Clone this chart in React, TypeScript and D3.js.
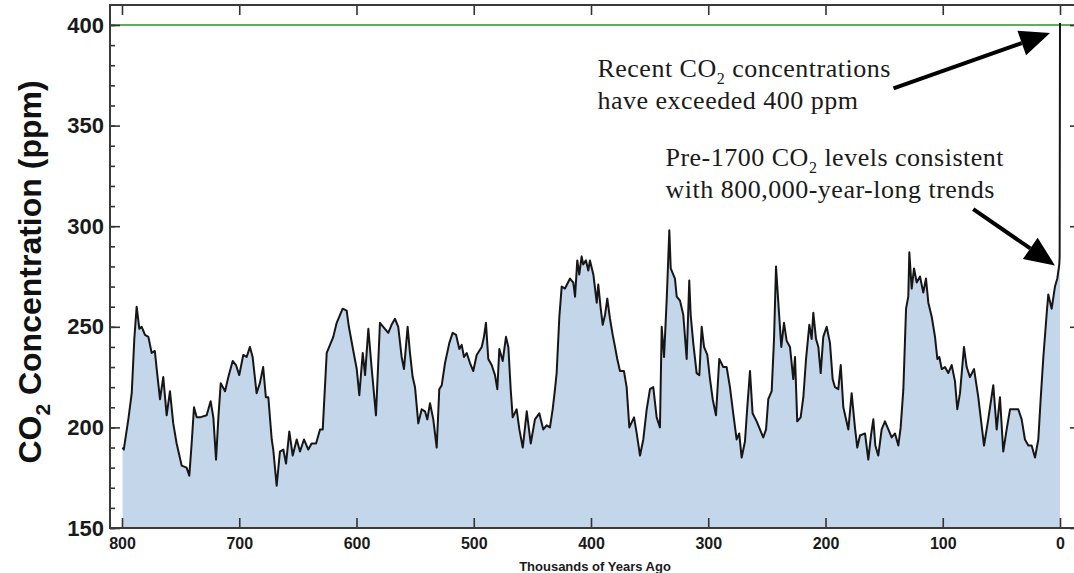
import React, { useEffect, useRef } from "react";
import { select, scaleLinear, area, line, axisLeft, axisBottom, axisTop, axisRight, range, curveLinear } from "d3";

// [thousands of years ago, CO2 ppm]
const co2Record: [number, number][] = [
  [799.5, 190], [798.5, 189], [794.6, 204], [791.7, 217], [789.5, 244], [787.5, 260], [785.2, 249], [783.2, 250],
  [780.4, 246], [777.5, 245], [774.7, 237], [772, 238], [770.4, 229], [767.6, 214], [764.8, 225], [761.9, 206],
  [759.1, 218], [756.3, 202], [753.4, 192], [749.1, 181], [744.9, 180], [742.6, 176], [740.6, 192], [738.6, 210],
  [736.3, 205], [733.5, 205], [727.8, 206], [724.4, 213], [722.1, 205], [719.8, 184], [717.8, 205], [715.8, 222],
  [712.1, 218], [709.3, 225], [705.6, 233], [702.8, 231], [700, 226], [696.6, 236], [693.7, 235], [690.9, 240],
  [688.6, 235], [685.2, 217], [682.4, 222], [679.6, 230], [677.3, 215], [675.2, 215], [672.3, 194], [671, 189],
  [668.1, 171], [665.3, 188], [662.4, 189], [660.1, 182], [657.3, 198], [654.4, 186], [651, 194], [648.2, 188],
  [644.8, 194], [641.1, 189], [638.3, 192], [634.5, 192], [631.1, 199], [628.8, 199], [625.4, 237], [619.8, 245],
  [616.9, 252], [611.8, 259], [608.4, 258], [606.5, 250], [602.7, 238], [599.8, 229], [597.6, 216], [594.7, 237],
  [592.7, 226], [589.9, 249], [587, 229], [583.4, 206], [580, 252], [577.2, 250], [572.9, 247], [570.1, 251],
  [567.2, 254], [564.4, 250], [561.5, 235], [559.5, 229], [556.4, 250], [554.4, 237], [552.1, 225], [550.1, 220],
  [547.3, 202], [544.4, 209], [541.6, 208], [539.6, 204], [537.3, 212], [534.5, 204], [531.6, 190], [529.4, 219],
  [527.3, 221], [524.5, 232], [520.8, 242], [518, 247], [515.1, 246], [512.3, 239], [510.3, 241], [508.3, 235],
  [506, 237], [503.2, 232], [500.4, 228], [497.5, 236], [493.2, 240], [491.3, 245], [489.6, 252], [487.6, 234],
  [484.7, 231], [481.9, 226], [479.9, 219], [478.2, 239], [475.3, 233], [472.5, 245], [470.5, 240], [468.5, 219],
  [466.8, 205], [463.4, 209], [461.1, 199], [458.2, 190], [454.8, 208], [451.4, 192], [447.8, 204], [444.1, 207],
  [440.7, 199], [437.8, 201], [435, 200], [432.7, 209], [430.7, 219], [429.3, 227], [427, 255], [425, 270],
  [422.2, 269], [417.9, 274], [415.1, 272], [413.6, 265], [411.7, 283], [410, 276], [408, 285], [406.6, 281],
  [404.3, 283], [402.3, 278], [400.9, 283], [398, 276], [395.1, 262], [393.8, 271], [391.7, 259], [390, 251],
  [388, 256], [386.1, 264], [383.8, 254], [381.5, 246], [379.5, 240], [377.6, 234], [375.3, 228], [371.9, 228],
  [369.6, 220], [367.3, 200], [363.3, 205], [361, 197], [358.2, 186], [355.4, 194], [352.5, 209], [349.7, 219],
  [346.9, 220], [344, 205], [341.2, 200], [339.7, 250], [337.7, 235], [335.4, 264], [333.2, 298], [332, 279],
  [328.4, 274], [326.9, 265], [324.1, 263], [321.3, 256], [318.4, 234], [316.2, 273], [315, 256], [312.8, 242],
  [309.9, 227], [307.6, 226], [305.6, 250], [303.6, 240], [300.8, 236], [298.5, 224], [296.2, 214], [293.4, 206],
  [290.6, 234], [287.2, 230], [284.3, 230], [281.5, 220], [278.7, 207], [275.8, 194], [273.6, 197], [271.5, 185],
  [268.7, 193], [266.7, 210], [264.4, 228], [262.2, 207], [258.7, 203], [255.9, 199], [253.1, 195], [250.7, 199],
  [248.8, 214], [245.9, 218], [243.9, 244], [242.2, 280], [239.9, 259], [237.7, 240], [235.4, 252], [233.1, 243],
  [230.3, 240], [227.5, 224], [226, 235], [224.1, 203], [221.2, 205], [218.9, 215], [216.6, 234], [213.8, 251],
  [211.8, 244], [210.4, 257], [208.1, 244], [206.1, 240], [204.1, 227], [201.9, 245], [199, 250], [196.2, 242],
  [193.9, 224], [191.9, 220], [189.1, 219], [187, 231], [184.8, 210], [180.5, 199], [177.7, 217], [174.9, 200],
  [172.9, 190], [170.6, 196], [166.3, 197], [163.5, 184], [161.2, 196], [159.2, 204], [157.5, 191], [155, 186],
  [152.1, 199], [149.3, 203], [146.4, 199], [143.6, 195], [140.7, 197], [137.9, 191], [135.9, 200], [133.6, 219],
  [131.3, 259], [129.4, 265], [128.5, 287], [126.5, 269], [124.5, 279], [122.2, 272], [119.4, 275], [116.6, 267],
  [114.3, 274], [112.3, 262], [109.4, 255], [106.6, 245], [104.6, 234], [102.9, 235], [100.9, 229], [98.1, 230],
  [95.3, 227], [92.4, 231], [89.6, 223], [87.6, 209], [85.3, 217], [81.9, 240], [79.6, 230], [76.8, 225],
  [73.3, 229], [69.7, 215], [64.8, 191], [61.2, 204], [56.9, 221], [54, 199], [51.2, 215], [48.4, 188],
  [45.5, 199], [42.6, 209], [35.6, 209], [32.7, 204], [29.9, 194], [27, 191], [24.2, 191], [21.3, 185],
  [18.5, 194], [16.5, 214], [14.2, 235], [11.3, 257], [10, 266], [7.1, 259], [4.3, 270], [2.3, 274],
  [0.6, 281], [0.3, 285], [0, 401],
];

const yMajorTicks = [150, 200, 250, 300, 350, 400];
const yMinorTicks = range(150, 401, 10);
const xTicks = [800, 700, 600, 500, 400, 300, 200, 100, 0];
const referenceLevel = 400;

// annotation anchors in data units: [kyr, ppm]
const recentNote = { lines: ["Recent CO|2| concentrations", "have exceeded 400 ppm"], at: [394.5, 374] as [number, number], from: [142, 368.5] as [number, number], to: [8.5, 396] as [number, number] };
const preNote = { lines: ["Pre-1700 CO|2| levels consistent", "with 800,000-year-long trends"], at: [336.5, 330] as [number, number], from: [74, 308.5] as [number, number], to: [4.3, 280.5] as [number, number] };

const W = 1074;
const H = 573;

function App() {
  const svgRef = useRef<SVGSVGElement>(null);

  useEffect(() => {
    const svg = select(svgRef.current);
    svg.selectAll("*").remove();

    const xScale = scaleLinear().domain([800, 0]).range([122, 1060]);
    const yScale = scaleLinear().domain([150, 400]).range([528, 25]);
    const left = 110, right = 1080, top = 5, bottom = 528;

    const sans = "'Liberation Sans', Arial, Helvetica, sans-serif";
    const serif = "'Liberation Serif', 'Times New Roman', serif";

    // filled record
    const areaGen = area<[number, number]>()
      .x(d => xScale(d[0]))
      .y0(yScale(150))
      .y1(d => yScale(Math.min(d[1], 290)))
      .curve(curveLinear);
    svg.append("path").datum(co2Record).attr("d", areaGen).attr("fill", "#c4d6ea");

    // reference line at 400 ppm
    svg.append("line")
      .attr("x1", left).attr("x2", W)
      .attr("y1", yScale(referenceLevel)).attr("y2", yScale(referenceLevel))
      .attr("stroke", "#5fae5f").attr("stroke-width", 2);

    const lineGen = line<[number, number]>().x(d => xScale(d[0])).y(d => yScale(d[1]));
    svg.append("path").datum(co2Record).attr("d", lineGen)
      .attr("fill", "none").attr("stroke", "#161616").attr("stroke-width", 2).attr("stroke-linejoin", "round");

    // axes
    const gLeftMinor = svg.append("g").attr("transform", `translate(${left},0)`)
      .call(axisLeft(yScale).tickValues(yMinorTicks).tickSizeInner(-5).tickSizeOuter(0).tickFormat(() => ""));
    const gLeft = svg.append("g").attr("transform", `translate(${left},0)`)
      .call(axisLeft(yScale).tickValues(yMajorTicks).tickSizeInner(-10).tickSizeOuter(0).tickPadding(6));
    gLeft.selectAll("text").attr("font-family", sans).attr("font-weight", "bold").attr("font-size", 22).attr("fill", "#1a1a1a");

    const gRight = svg.append("g").attr("transform", `translate(${right},0)`)
      .call(axisRight(yScale).tickValues(yMajorTicks).tickSizeInner(-10).tickSizeOuter(0).tickFormat(() => ""));

    const gBottom = svg.append("g").attr("transform", `translate(0,${bottom})`)
      .call(axisBottom(xScale).tickValues(xTicks).tickSizeInner(-10).tickSizeOuter(0).tickPadding(10).tickFormat(d => String(d)));
    gBottom.selectAll("text").attr("font-family", sans).attr("font-weight", "bold").attr("font-size", 16).attr("fill", "#1a1a1a");

    const gTop = svg.append("g").attr("transform", `translate(0,${top})`)
      .call(axisTop(xScale).tickValues(xTicks).tickSizeInner(-10).tickSizeOuter(0).tickFormat(() => ""));

    [gLeftMinor, gLeft, gRight, gBottom, gTop].forEach(g => {
      g.select(".domain").remove();
      g.selectAll("line").attr("stroke", "#333").attr("stroke-width", 1.6);
    });

    // frame
    svg.append("rect").attr("x", left).attr("y", top).attr("width", right - left).attr("height", bottom - top)
      .attr("fill", "none").attr("stroke", "#3a3a3a").attr("stroke-width", 2);

    // axis titles
    const yTitle = svg.append("text")
      .attr("transform", `translate(41,272) rotate(-90)`)
      .attr("text-anchor", "middle")
      .attr("font-family", sans).attr("font-weight", "bold").attr("font-size", 32).attr("fill", "#111");
    yTitle.append("tspan").text("CO");
    yTitle.append("tspan").text("2").attr("font-size", 21).attr("dy", 9);
    yTitle.append("tspan").text(" Concentration (ppm)").attr("dy", -9);

    svg.append("text").attr("x", 595).attr("y", 571).attr("text-anchor", "middle")
      .attr("font-family", sans).attr("font-weight", "bold").attr("font-size", 13).attr("fill", "#1a1a1a")
      .text("Thousands of Years Ago");

    // annotations
    [recentNote, preNote].forEach(note => {
      note.lines.forEach((ln, i) => {
        const t = svg.append("text")
          .attr("x", xScale(note.at[0])).attr("y", yScale(note.at[1]) + i * 32)
          .attr("font-family", serif).attr("font-size", 26).attr("letter-spacing", 0.5).attr("fill", "#1a1a1a");
        const parts = ln.split("|");
        parts.forEach((p, j) => {
          const ts = t.append("tspan").text(p);
          if (j === 1) ts.attr("font-size", 16).attr("dy", 7);
          if (j === 2) ts.attr("dy", -7);
        });
      });

      const x1 = xScale(note.from[0]), y1 = yScale(note.from[1]);
      const x2 = xScale(note.to[0]), y2 = yScale(note.to[1]);
      const ang = Math.atan2(y2 - y1, x2 - x1);
      const headLen = 30, headHalf = 13;
      const bx = x2 - headLen * Math.cos(ang), by = y2 - headLen * Math.sin(ang);
      svg.append("line").attr("x1", x1).attr("y1", y1).attr("x2", bx).attr("y2", by)
        .attr("stroke", "#000").attr("stroke-width", 4);
      const px = -Math.sin(ang), py = Math.cos(ang);
      svg.append("polygon")
        .attr("points", `${x2},${y2} ${bx + px * headHalf},${by + py * headHalf} ${bx - px * headHalf},${by - py * headHalf}`)
        .attr("fill", "#000");
    });
  }, []);

  return (
    <div style={{ position: "absolute", left: 0, top: 0, width: W, height: H, background: "#fff" }}>
      <svg ref={svgRef} width={W} height={H} style={{ display: "block" }} />
    </div>
  );
}

export default App;
